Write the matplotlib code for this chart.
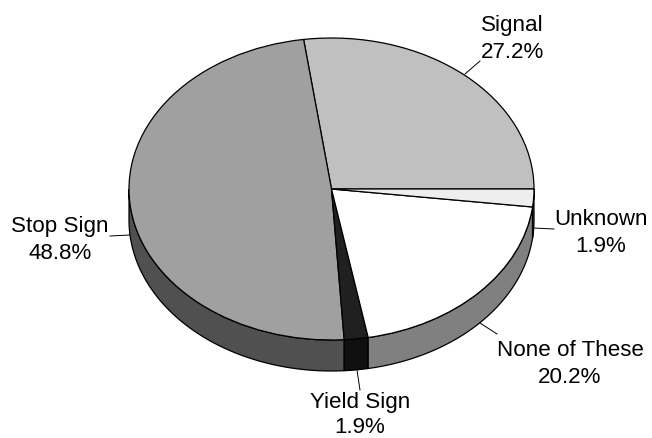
import numpy as np
import matplotlib
matplotlib.use("Agg")
import matplotlib.pyplot as plt

plt.rcParams['font.family'] = ['Liberation Sans', 'DejaVu Sans']

labels = ["Signal", "Stop Sign", "Yield Sign", "None of These", "Unknown"]
shares = [27.2, 48.8, 1.9, 20.2, 1.9]
top_colors = ["#c0c0c0", "#a0a0a0", "#202020", "#ffffff", "#eeeeee"]
side_colors = ["#606060", "#505050", "#101010", "#808080", "#777777"]

# label centre and leader line, in pixels of the original picture
label_pos = [(512, 39), (60, 240), (360, 415), (570, 364), (601, 233)]
label_gap = [1.32, 1.32, 1.2, 1.32, 1.32]
leaders = [((465, 74), (480, 61)), ((130, 235), (110, 236)),
           ((357, 370), (360, 390)), ((480, 323), (497, 334)),
           ((533, 228), (554, 229))]

W, H = 652, 438
cx, cy, rx, ry = 331.5, 189, 202.5, 151
depth = 31 / ry

fig = plt.figure(figsize=(W / 100, H / 100), dpi=100)
ax = fig.add_axes([0, 0, 1, 1])

ax.pie(shares, colors=top_colors, startangle=0, counterclock=True, radius=1,
       wedgeprops=dict(edgecolor="black", linewidth=0.9, zorder=3))
# pie turns the aspect to equal, squash it afterwards into the tilted ellipse
ax.set_aspect("auto")
ax.set_xlim(-cx / rx, (W - cx) / rx)
ax.set_ylim((cy - H) / ry, cy / ry)
ax.axis("off")


def px(x, y):
    return (x - cx) / rx, (cy - y) / ry


# side wall of the disc, only the front half can be seen
edges = np.cumsum([0] + shares) / sum(shares) * 2 * np.pi
for a, b, col in zip(edges[:-1], edges[1:], side_colors):
    a = max(a, np.pi)
    if b <= a:
        continue
    t = np.linspace(a, b, 80)
    xs = np.cos(t)
    ys = np.sin(t)
    ax.fill(np.r_[xs, xs[::-1]], np.r_[ys, ys[::-1] - depth],
            facecolor=col, edgecolor="black", linewidth=0.9, zorder=2)

for name, share, pos, gap, line in zip(labels, shares, label_pos, label_gap, leaders):
    p0 = px(*line[0])
    p1 = px(*line[1])
    ax.plot([p0[0], p1[0]], [p0[1], p1[1]], color="black", linewidth=0.7, zorder=1)
    x, y = px(*pos)
    ax.text(x, y, f"{name}\n{share}%", ha="center", va="center", fontsize=16.1,
            linespacing=gap, color="black")

fig.savefig("out.png", dpi=100, facecolor="white")
